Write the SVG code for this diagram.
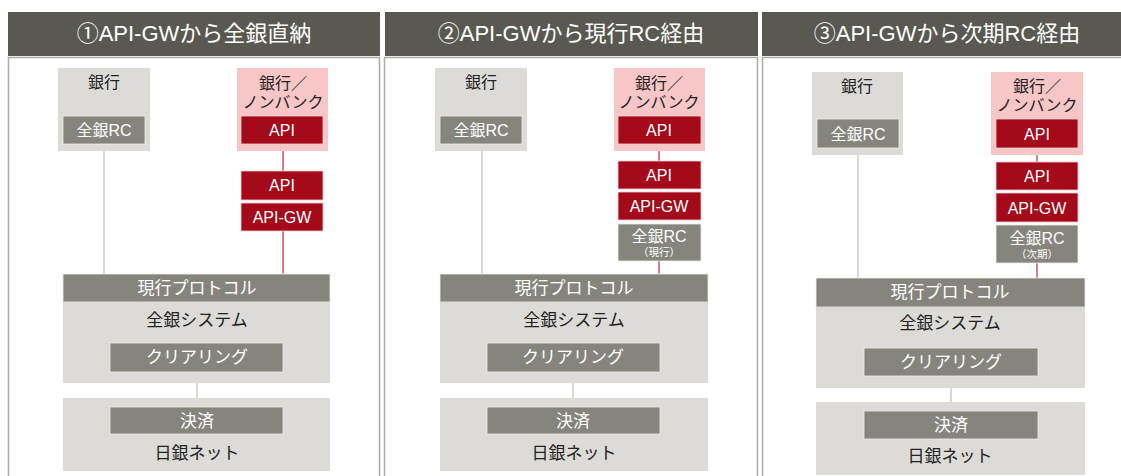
<svg xmlns="http://www.w3.org/2000/svg" width="1121" height="476" viewBox="0 0 1121 476">
<style>
text{font-family:"Liberation Sans","Noto Sans CJK JP",sans-serif;text-anchor:middle}
.hdr{fill:#5a5951}
.hdrt{fill:#fff;font-size:22px}
.panel{fill:#fff;stroke:#acaba5;stroke-width:1.5}
.lt{fill:#dcdbd7}
.pk{fill:#f8c6c6}
.gr{fill:#86857d;stroke:#eeeeea;stroke-width:0.8}
.rd{fill:#a40a1a;stroke:#f2d0d0;stroke-width:0.8}
.wt{fill:#fff;font-size:16px}
.wtl{fill:#fff;font-size:17px}
.wts{fill:#fff;font-size:10.5px}
.bk{fill:#222;font-size:16px}
.bkl{fill:#222;font-size:17px}
.cg{stroke:#c0bfba;stroke-width:1.2;fill:none}
.cr{stroke:#b8303f;stroke-width:1.2;fill:none}
</style>

<!-- panels -->
<g id="panel1">
<rect class="panel" x="8.5" y="57.5" width="371" height="440"/>
<rect class="hdr" x="8" y="12" width="372" height="44"/>
<text class="hdrt" x="194" y="41">①API-GWから全銀直納</text>
</g>
<g id="panel2">
<rect class="panel" x="384.5" y="57.5" width="373" height="440"/>
<rect class="hdr" x="385" y="12" width="373" height="44"/>
<text class="hdrt" x="571" y="41">②API-GWから現行RC経由</text>
</g>
<g id="panel3">
<rect class="panel" x="762.5" y="57.5" width="380" height="440"/>
<rect class="hdr" x="762" y="12" width="372" height="44"/>
<text class="hdrt" x="947" y="41">③API-GWから次期RC経由</text>
</g>

<!-- connectors -->
<g id="connectors">
<line class="cg" x1="104" y1="144" x2="104" y2="274"/>
<line class="cr" x1="283" y1="144" x2="283" y2="171"/>
<line class="cr" x1="283" y1="231" x2="283" y2="274"/>
<line class="cg" x1="197" y1="372" x2="197" y2="407"/>

<line class="cg" x1="482" y1="144" x2="482" y2="274"/>
<line class="cr" x1="659" y1="144" x2="659" y2="161"/>
<line class="cr" x1="659" y1="261" x2="659" y2="274"/>
<line class="cg" x1="573" y1="372" x2="573" y2="407"/>

<line class="cg" x1="858" y1="148" x2="858" y2="278"/>
<line class="cr" x1="1037" y1="148" x2="1037" y2="162"/>
<line class="cr" x1="1037" y1="263" x2="1037" y2="278"/>
<line class="cg" x1="951" y1="376" x2="951" y2="411"/>
</g>

<!-- Panel 1 nodes -->
<g id="p1-bank">
<rect class="lt" x="58" y="68" width="92" height="83"/>
<text class="bk" x="104" y="88">銀行</text>
</g>
<g id="p1-zrc">
<rect class="gr" x="63" y="116" width="82" height="28"/>
<text class="wt" x="104" y="136">全銀RC</text>
</g>
<g id="p1-nonbank">
<rect class="pk" x="237" y="68" width="91" height="83"/>
<text class="bk" x="283" y="89">銀行／<tspan x="283" dy="19">ノンバンク</tspan></text>
</g>
<g id="p1-api1">
<rect class="rd" x="241" y="116" width="82" height="28"/>
<text class="wt" x="282" y="136">API</text>
</g>
<g id="p1-api2">
<rect class="rd" x="241" y="171" width="82" height="29"/>
<text class="wt" x="282" y="191">API</text>
</g>
<g id="p1-apigw">
<rect class="rd" x="241" y="203" width="82" height="28"/>
<text class="wt" x="282" y="223">API-GW</text>
</g>
<g id="p1-protocol">
<rect class="gr" x="63" y="274" width="267" height="28"/>
<text class="wtl" x="197" y="294">現行プロトコル</text>
</g>
<g id="p1-zsys">
<rect class="lt" x="63" y="302" width="267" height="81"/>
<text class="bkl" x="197" y="326">全銀システム</text>
</g>
<g id="p1-clearing">
<rect class="gr" x="110" y="343" width="173" height="29"/>
<text class="wtl" x="197" y="363">クリアリング</text>
</g>
<g id="p1-boj">
<rect class="lt" x="63" y="398" width="267" height="73"/>
<text class="bkl" x="197" y="459">日銀ネット</text>
</g>
<g id="p1-settle">
<rect class="gr" x="110" y="407" width="173" height="27"/>
<text class="wtl" x="197" y="427">決済</text>
</g>

<!-- Panel 2 nodes -->
<g id="p2-bank">
<rect class="lt" x="435" y="68" width="92" height="83"/>
<text class="bk" x="481" y="88">銀行</text>
</g>
<g id="p2-zrc">
<rect class="gr" x="440" y="116" width="82" height="28"/>
<text class="wt" x="481" y="136">全銀RC</text>
</g>
<g id="p2-nonbank">
<rect class="pk" x="614" y="68" width="91" height="83"/>
<text class="bk" x="659" y="89">銀行／<tspan x="659" dy="19">ノンバンク</tspan></text>
</g>
<g id="p2-api1">
<rect class="rd" x="618" y="116" width="83" height="28"/>
<text class="wt" x="659" y="136">API</text>
</g>
<g id="p2-api2">
<rect class="rd" x="618" y="161" width="83" height="28"/>
<text class="wt" x="659" y="181">API</text>
</g>
<g id="p2-apigw">
<rect class="rd" x="618" y="192" width="83" height="28"/>
<text class="wt" x="659" y="212">API-GW</text>
</g>
<g id="p2-zrc-current">
<rect class="gr" x="618" y="224" width="83" height="37"/>
<text class="wt" x="659" y="242">全銀RC<tspan class="wts" x="659" dy="14">（現行）</tspan></text>
</g>
<g id="p2-protocol">
<rect class="gr" x="440" y="274" width="268" height="28"/>
<text class="wtl" x="574" y="294">現行プロトコル</text>
</g>
<g id="p2-zsys">
<rect class="lt" x="440" y="302" width="268" height="81"/>
<text class="bkl" x="574" y="326">全銀システム</text>
</g>
<g id="p2-clearing">
<rect class="gr" x="487" y="343" width="173" height="29"/>
<text class="wtl" x="573" y="363">クリアリング</text>
</g>
<g id="p2-boj">
<rect class="lt" x="440" y="398" width="268" height="73"/>
<text class="bkl" x="574" y="459">日銀ネット</text>
</g>
<g id="p2-settle">
<rect class="gr" x="487" y="407" width="173" height="27"/>
<text class="wtl" x="573" y="427">決済</text>
</g>

<!-- Panel 3 nodes -->
<g id="p3-bank">
<rect class="lt" x="812" y="72" width="91" height="83"/>
<text class="bk" x="857" y="92">銀行</text>
</g>
<g id="p3-zrc">
<rect class="gr" x="817" y="119" width="82" height="29"/>
<text class="wt" x="858" y="140">全銀RC</text>
</g>
<g id="p3-nonbank">
<rect class="pk" x="991" y="72" width="92" height="83"/>
<text class="bk" x="1037" y="92">銀行／<tspan x="1037" dy="19">ノンバンク</tspan></text>
</g>
<g id="p3-api1">
<rect class="rd" x="996" y="119" width="82" height="29"/>
<text class="wt" x="1037" y="140">API</text>
</g>
<g id="p3-api2">
<rect class="rd" x="996" y="162" width="82" height="28"/>
<text class="wt" x="1037" y="182">API</text>
</g>
<g id="p3-apigw">
<rect class="rd" x="996" y="193" width="82" height="29"/>
<text class="wt" x="1037" y="214">API-GW</text>
</g>
<g id="p3-zrc-next">
<rect class="gr" x="996" y="225" width="82" height="38"/>
<text class="wt" x="1037" y="244">全銀RC<tspan class="wts" x="1037" dy="14">（次期）</tspan></text>
</g>
<g id="p3-protocol">
<rect class="gr" x="816" y="278" width="269" height="29"/>
<text class="wtl" x="950" y="298">現行プロトコル</text>
</g>
<g id="p3-zsys">
<rect class="lt" x="816" y="307" width="269" height="81"/>
<text class="bkl" x="950" y="329">全銀システム</text>
</g>
<g id="p3-clearing">
<rect class="gr" x="864" y="348" width="174" height="28"/>
<text class="wtl" x="951" y="368">クリアリング</text>
</g>
<g id="p3-boj">
<rect class="lt" x="816" y="402" width="269" height="73"/>
<text class="bkl" x="950" y="462">日銀ネット</text>
</g>
<g id="p3-settle">
<rect class="gr" x="864" y="411" width="174" height="28"/>
<text class="wtl" x="951" y="431">決済</text>
</g>
</svg>
